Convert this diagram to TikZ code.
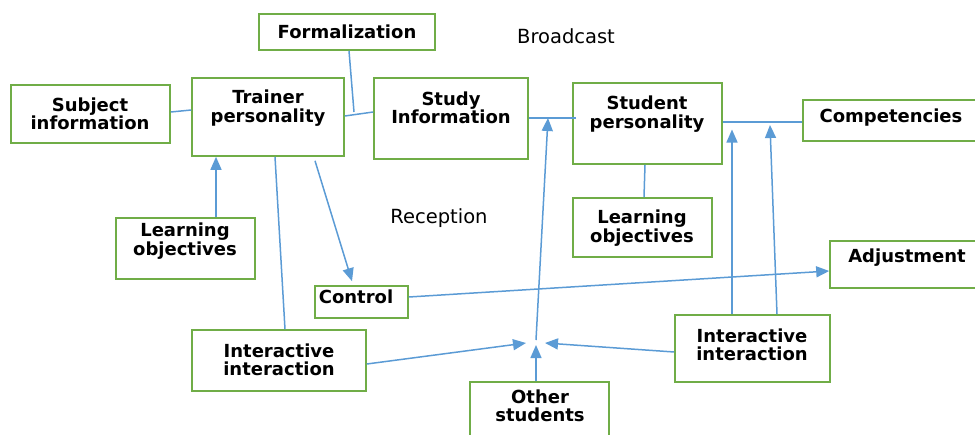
\documentclass[tikz,border=0pt]{standalone}
\usepackage{fontspec}
\setmainfont{DejaVu Sans}
\usetikzlibrary{arrows.meta}
\definecolor{boxgreen}{RGB}{112,173,71}
\definecolor{linkblue}{RGB}{91,155,213}

\begin{document}
\begin{tikzpicture}[x=1pt,y=-1pt,
    box/.style={draw=boxgreen,line width=1.6pt,inner sep=0pt},
    txt/.style={align=center,inner sep=0pt,font=\bfseries\fontsize{18}{18.5}\selectfont},
    plain/.style={inner sep=0pt,font=\fontsize{19.5}{20}\selectfont},
    link/.style={draw=linkblue,line width=1.5pt},
    arrow/.style={link,-{Triangle[length=13pt,width=11pt]}}
    ]
        \useasboundingbox (0,0) rectangle (975,434);
        % boxes
        \node[box,minimum width=176pt,minimum height=36pt] (formal) at (347,32) {};
        \node[box,minimum width=159pt,minimum height=58pt] (subject) at (90.5,114) {};
        \node[box,minimum width=152pt,minimum height=78pt] (trainer) at (268,117) {};
        \node[box,minimum width=154pt,minimum height=81pt] (study) at (451,118.5) {};
        \node[box,minimum width=149pt,minimum height=81pt] (student) at (647.5,123.5) {};
        \node[box,minimum width=180pt,minimum height=41pt] (compet) at (893,120.5) {};
        \node[box,minimum width=139pt,minimum height=61pt] (lobjL) at (185.5,248.5) {};
        \node[box,minimum width=139pt,minimum height=59pt] (lobjR) at (642.5,227.5) {};
        \node[box,minimum width=93pt,minimum height=32pt] (control) at (361.5,302) {};
        \node[box,minimum width=150pt,minimum height=47pt] (adjust) at (905,264.5) {};
        \node[box,minimum width=174pt,minimum height=61pt] (interL) at (279,360.5) {};
        \node[box,minimum width=155pt,minimum height=67pt] (interR) at (752.5,348.5) {};
        \node[box,minimum width=139pt,minimum height=64pt] (others) at (539.5,414) {};
        % texts
        \node[txt] (formal-t) at (347,32) {Formalization};
        \node[txt] (subject-t) at (90,114) {Subject\\information};
        \node[txt] (trainer-t) at (268,108) {Trainer\\personality};
        \node[txt] (study-t) at (451,108) {Study\\Information};
        \node[txt] (student-t) at (647,114) {Student\\personality};
        \node[txt] (compet-t) at (891,118) {Competencies};
        \node[txt] (lobjL-t) at (185,241) {Learning\\objectives};
        \node[txt] (lobjR-t) at (642,228) {Learning\\objectives};
        \node[txt] (control-t) at (356,297) {Control};
        \node[txt] (adjust-t) at (907,258) {Adjustment};
        \node[txt] (interL-t) at (279,360) {Interactive\\interaction};
        \node[txt] (interR-t) at (752,345) {Interactive\\interaction};
        \node[txt] (others-t) at (540,406) {Other\\students};
        \node[plain] (broadcast) at (566,36) {Broadcast};
        \node[plain] (reception) at (439,218) {Reception};
        % junctions
        \coordinate (fj) at (354,112);
        \coordinate (sj) at (548,118);
        \coordinate (conv) at (536,344);
        % links
        \draw[link] ([yshift=2pt]subject.east) -- ([yshift=7pt]trainer.west);
        \draw[link] ([yshift=1pt]trainer.east) -- ([yshift=6.5pt]study.west);
        \draw[link] ([xshift=2pt]formal.south) -- (fj);
        \draw[arrow] ([xshift=30.5pt]lobjL.north) -- ([xshift=30.5pt]lobjL.north |- trainer.south);
        \draw[link] ([xshift=7pt]trainer.south) -- ([xshift=6pt]interL.north);
        \draw[arrow] ([xshift=47pt,yshift=-4pt]trainer.south) -- ([xshift=-9.5pt,yshift=4pt]control.north);
        \draw[arrow] ([yshift=5pt]control.east) -- ([yshift=-6.5pt]adjust.west);
        \draw[link] ([yshift=0.5pt]study.east) -- ([xshift=4pt,yshift=5.5pt]student.west);
        \draw[link] ([yshift=1.5pt]student.east) -- ([yshift=-1.5pt]compet.west);
        \draw[link] ([xshift=-2.5pt]student.south) -- ([xshift=1.5pt]lobjR.north);
        \draw[arrow] ([yshift=4pt]conv) -- (sj);
        \draw[arrow] ([yshift=-3.5pt]interL.east) -- ([xshift=-10pt,yshift=1pt]conv);
        \draw[arrow] ([yshift=-3.5pt]interR.west) -- ([xshift=9pt,yshift=1pt]conv);
        \draw[arrow] ([xshift=-3.5pt]others.north) -- ([yshift=-1pt]conv);
        \draw[arrow] ([xshift=-20.5pt]interR.north) -- ([xshift=-20.5pt,yshift=-6pt]interR.north |- student.east);
        \draw[arrow] ([xshift=24.5pt]interR.north) -- (770,125);
\end{tikzpicture}
\end{document}
